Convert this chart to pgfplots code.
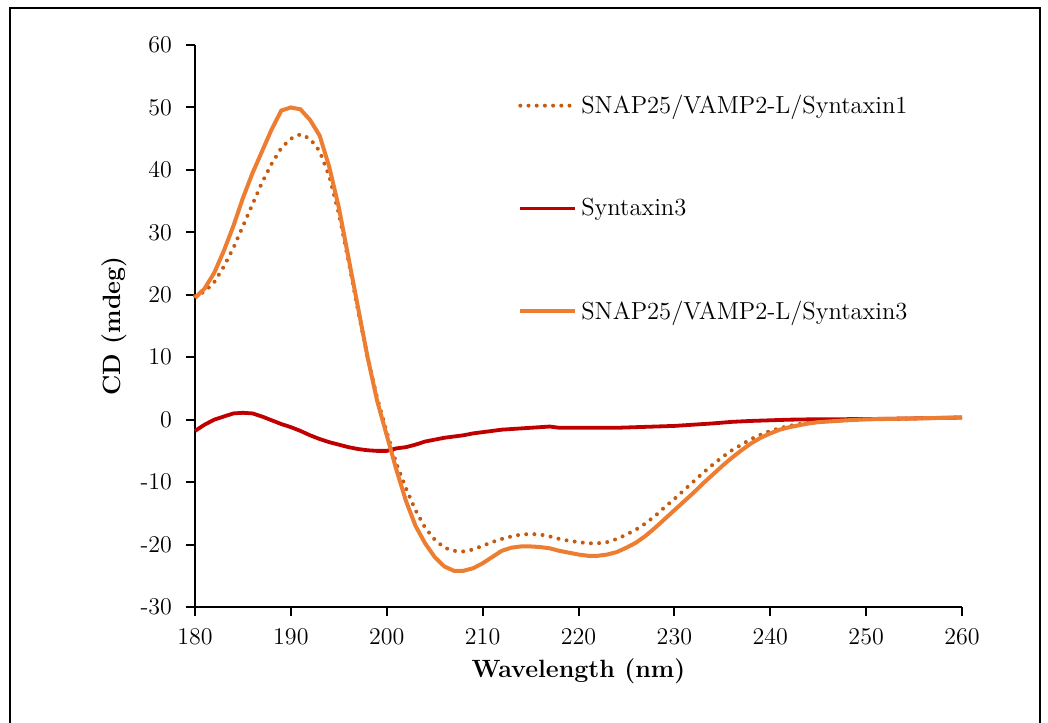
\documentclass[border=0pt]{standalone}
\usepackage{pgfplots}
\pgfplotsset{compat=1.18}
\definecolor{cOrange}{HTML}{ED7D31}
\definecolor{cDark}{HTML}{C55A11}
\definecolor{cRed}{HTML}{C00000}
\begin{document}
\begin{tikzpicture}
\useasboundingbox (0,0) rectangle (524pt,361pt);
\draw[line width=0.9pt] (4.8pt,-5pt) -- (4.8pt,356.8pt) -- (519.8pt,356.8pt) -- (519.8pt,-5pt);
\begin{axis}[
  at={(97.5pt,57.5pt)}, anchor=south west,
  scale only axis, width=383.5pt, height=281pt,
  xmin=180, xmax=260, ymin=-30, ymax=60,
  axis x line=bottom, axis y line=left,
  axis line style={-, line width=1pt, black},
  tick align=outside, major tick length=4.5pt,
  tick style={line width=1pt, black},
  xtick={180,190,...,260},
  xticklabels={180,190,200,210,220,230,240,250,260},
  ytick={-30,-20,...,60},
  yticklabels={-30,-20,-10,0,10,20,30,40,50,60},
  ticklabel style={font=\fontsize{12}{14}\selectfont},
  yticklabel style={xshift=-3.5pt},
  xticklabel style={yshift=-2.5pt},
  xlabel={\textbf{Wavelength (nm)}},
  ylabel={\textbf{CD (mdeg)}},
  label style={font=\fontsize{12.5}{14}\selectfont},
  legend style={draw=none, fill=none, at={(0.421,0.919)}, anchor=north west,
    font=\fontsize{12.3}{14}\selectfont, row sep=37pt, inner sep=0pt},
  legend cell align=left,
  legend image code/.code={\draw[#1] (0pt,0pt) -- (27.5pt,0pt);},
  clip=false,
]
% SNAP25/VAMP2-L/Syntaxin1 (dotted)
\addplot[cDark, line width=2pt, line cap=round, dash pattern=on 0pt off 4.1pt] coordinates {
(180,19.8)(181,20.5)(182,22)(183,24.5)(184,27.5)(185,31)(186,34.5)(187,38)(188,41)(189,43.5)
(190,45)(191,45.7)(192,45)(193,43)(194,39)(195,33)(196,25.5)(197,17.5)(198,10)(199,3.5)
(200,-2)(201,-7)(202,-11)(203,-14.5)(204,-17.3)(205,-19.2)(206,-20.5)(207,-21)(208,-21.1)(209,-20.8)
(210,-20.2)(211,-19.6)(212,-19.1)(213,-18.7)(214,-18.4)(215,-18.3)(216,-18.4)(217,-18.7)(218,-19.1)(219,-19.4)
(220,-19.6)(221,-19.8)(222,-19.8)(223,-19.6)(224,-19.1)(225,-18.4)(226,-17.6)(227,-16.6)(228,-15.4)(229,-14.0)
(230,-12.7)(231,-11.3)(232,-9.9)(233,-8.5)(234,-7.2)(235,-6.0)(236,-4.9)(237,-4.0)(238,-3.1)(239,-2.4)
(240,-1.8)(241,-1.35)(242,-1.0)(243,-0.7)(244,-0.5)(245,-0.35)(246,-0.25)(247,-0.15)(248,-0.05)(250,0.05)
(255,0.2)(260,0.35)};
\addlegendentry{SNAP25/VAMP2-L/Syntaxin1}
% Syntaxin3
\addplot[cRed, line width=1.9pt] coordinates {
(180,-1.8)(181,-0.8)(182,0)(183,0.5)(184,1.0)(185,1.1)(186,1.0)(187,0.5)(188,-0.1)(189,-0.7)
(190,-1.2)(191,-1.8)(192,-2.5)(193,-3.1)(194,-3.6)(195,-4.0)(196,-4.4)(197,-4.7)(198,-4.9)(199,-5.0)
(200,-5.0)(201,-4.6)(202,-4.4)(203,-4.0)(204,-3.5)(205,-3.2)(206,-2.9)(207,-2.7)(208,-2.5)(209,-2.2)
(210,-2.0)(211,-1.8)(212,-1.6)(213,-1.5)(214,-1.4)(215,-1.3)(216,-1.2)(217,-1.1)(218,-1.3)(219,-1.3)
(220,-1.3)(222,-1.3)(224,-1.3)(226,-1.2)(228,-1.1)(230,-1.0)(232,-0.8)(234,-0.6)(236,-0.35)(238,-0.2)
(240,-0.1)(242,0)(244,0.05)(250,0.1)(255,0.2)(260,0.35)};
\addlegendentry{Syntaxin3}
% SNAP25/VAMP2-L/Syntaxin3 (solid orange)
\addplot[cOrange, line width=2pt] coordinates {
(180,19.5)(181,21)(182,23.5)(183,27)(184,31)(185,35.5)(186,39.5)(187,43)(188,46.5)(189,49.5)
(190,50)(191,49.7)(192,48)(193,45.5)(194,40.5)(195,34)(196,26)(197,18)(198,10)(199,3)
(200,-2.5)(201,-8)(202,-13)(203,-17)(204,-19.8)(205,-22)(206,-23.5)(207,-24.2)(208,-24.2)(209,-23.8)
(210,-23)(211,-22)(212,-21)(213,-20.5)(214,-20.3)(215,-20.3)(216,-20.4)(217,-20.6)(218,-21)(219,-21.3)
(220,-21.6)(221,-21.8)(222,-21.8)(223,-21.6)(224,-21.2)(225,-20.5)(226,-19.7)(227,-18.6)(228,-17.3)(229,-15.9)
(230,-14.5)(231,-13.1)(232,-11.7)(233,-10.2)(234,-8.8)(235,-7.4)(236,-6.1)(237,-4.9)(238,-3.8)(239,-2.9)
(240,-2.2)(241,-1.6)(242,-1.2)(243,-0.9)(244,-0.6)(245,-0.4)(246,-0.3)(247,-0.2)(248,-0.1)(250,0.05)
(255,0.2)(260,0.35)};
\addlegendentry{SNAP25/VAMP2-L/Syntaxin3}
\end{axis}
\end{tikzpicture}
\end{document}
